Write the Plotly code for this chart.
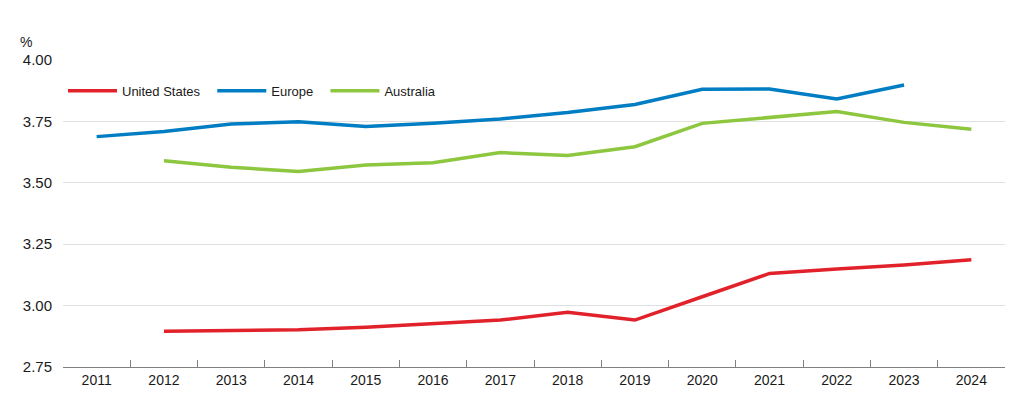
import plotly.graph_objects as go

years = [str(y) for y in range(2011, 2025)]
us = [None, 2.896, 2.898, 2.902, 2.912, 2.926, 2.941, 2.973, 2.941, 3.036, 3.131, 3.149, 3.165, 3.187]
europe = [3.688, 3.709, 3.739, 3.749, 3.729, 3.742, 3.760, 3.786, 3.819, 3.881, 3.882, 3.841, 3.898, None]
australia = [None, 3.590, 3.563, 3.546, 3.572, 3.582, 3.623, 3.611, 3.647, 3.742, 3.765, 3.790, 3.746, 3.718]
y_ticks = [2.75, 3.00, 3.25, 3.50, 3.75, 4.00]

NB = "\u00a0\u00a0"
series = [
    ("United States" + NB, us, "#E1222B"),
    ("Europe" + NB, europe, "#007DC3"),
    ("Australia", australia, "#8DC63F"),
]

fig = go.Figure()
for name, vals, color in series:
    fig.add_trace(go.Scatter(x=years, y=vals, name=name, mode="lines",
                             line=dict(color=color, width=3.5), connectgaps=False))

font_family = "Liberation Sans, Arial, sans-serif"
fig.update_layout(
    width=1024, height=412,
    margin=dict(l=63, r=19, t=60, b=45),
    paper_bgcolor="white", plot_bgcolor="white",
    font=dict(family=font_family, size=14, color="#1a1a1a"),
    showlegend=True,
    legend=dict(orientation="h", x=0, xanchor="left", y=0.9, yanchor="middle",
                font=dict(size=13), bgcolor="rgba(0,0,0,0)", itemwidth=49,
                traceorder="normal"),
    xaxis=dict(type="category", tickson="boundaries", ticks="inside", ticklen=7,
               tickcolor="#808080", showline=True, linecolor="#808080", linewidth=1,
               showgrid=False, tickfont=dict(size=14), range=[-0.5, 13.5]),
    yaxis=dict(range=[2.75, 4.0], tickvals=y_ticks, tickformat=".2f",
               showgrid=True, gridcolor="#e0e0e0", gridwidth=1, zeroline=False,
               ticks="", showline=False, tickfont=dict(size=15), ticklabelstandoff=10),
    annotations=[dict(text="%", xref="paper", yref="paper", x=-0.048, y=1.058,
                      xanchor="left", yanchor="middle", showarrow=False,
                      font=dict(size=14))],
)

fig.write_html("out.html", config={"displayModeBar": False},
               post_script="document.body.style.margin='0';")
